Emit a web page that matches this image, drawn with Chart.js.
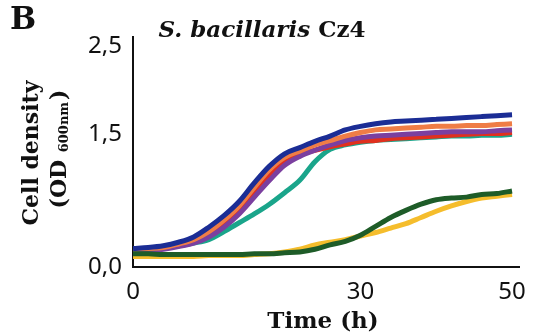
<!DOCTYPE html>
<html>
<head>
<meta charset="utf-8">
<script src="https://cdn.jsdelivr.net/npm/chart.js@4/dist/chart.umd.min.js"></script>
<style>
  html, body { margin: 0; padding: 0; background: #fff; }
  #wrap { width: 537px; height: 334px; position: relative; }
</style>
</head>
<body>
<div id="wrap"><canvas id="growth" width="537" height="334"></canvas></div>
<script>
// time (h), read every 2 h
var hours = [0, 2, 4, 6, 8, 10, 12, 14, 16, 18, 20, 22, 24, 26, 28, 30, 32, 34, 36, 38, 40, 42, 44, 46, 48, 50];

// OD600 per strain / condition
var blueOD   = [0.21, 0.22, 0.24, 0.28, 0.34, 0.45, 0.58, 0.74, 0.95, 1.14, 1.28, 1.35, 1.42, 1.48, 1.55, 1.59, 1.62, 1.64, 1.65, 1.66, 1.67, 1.68, 1.69, 1.70, 1.71, 1.72];
var orangeOD = [0.20, 0.21, 0.22, 0.26, 0.31, 0.40, 0.53, 0.69, 0.90, 1.10, 1.24, 1.31, 1.38, 1.43, 1.48, 1.52, 1.55, 1.56, 1.57, 1.58, 1.59, 1.59, 1.60, 1.60, 1.61, 1.62];
var purpleOD = [0.17, 0.18, 0.20, 0.23, 0.27, 0.34, 0.45, 0.60, 0.79, 0.98, 1.15, 1.25, 1.32, 1.38, 1.43, 1.46, 1.48, 1.49, 1.50, 1.51, 1.52, 1.53, 1.53, 1.53, 1.54, 1.55];
var redOD    = [0.18, 0.19, 0.21, 0.24, 0.29, 0.37, 0.49, 0.64, 0.84, 1.04, 1.19, 1.27, 1.32, 1.36, 1.39, 1.42, 1.43, 1.45, 1.46, 1.47, 1.48, 1.49, 1.50, 1.51, 1.51, 1.52];
var tealOD   = [0.21, 0.21, 0.22, 0.24, 0.27, 0.31, 0.40, 0.50, 0.60, 0.71, 0.84, 0.98, 1.19, 1.33, 1.38, 1.41, 1.43, 1.44, 1.45, 1.46, 1.47, 1.48, 1.48, 1.49, 1.49, 1.50];
var yellowOD = [0.12, 0.12, 0.12, 0.12, 0.12, 0.13, 0.13, 0.13, 0.14, 0.15, 0.17, 0.20, 0.25, 0.28, 0.31, 0.35, 0.39, 0.44, 0.49, 0.56, 0.63, 0.69, 0.74, 0.78, 0.80, 0.82];
var greenOD  = [0.15, 0.15, 0.14, 0.14, 0.14, 0.14, 0.14, 0.14, 0.15, 0.15, 0.16, 0.17, 0.20, 0.25, 0.29, 0.36, 0.46, 0.56, 0.64, 0.71, 0.76, 0.78, 0.79, 0.82, 0.83, 0.86];

var xTicks = [0, 30, 50];
var yTicks = [0, 1.5, 2.5];

function toPoints(vals) {
  return hours.map(function (h, i) { return {x: h, y: vals[i]}; });
}

function series(vals, color, order) {
  return {
    data: toPoints(vals),
    borderColor: color,
    backgroundColor: color,
    borderWidth: 5,
    pointRadius: 0,
    cubicInterpolationMode: 'monotone',
    order: order
  };
}

var serif = '"DejaVu Serif", "Liberation Serif", serif';

// extra labels: panel letter, title, axis titles
var labels = {
  id: 'labels',
  afterDraw: function (chart) {
    var ctx = chart.ctx;
    ctx.save();
    ctx.fillStyle = '#111';
    ctx.textBaseline = 'alphabetic';

    ctx.font = 'bold 31px ' + serif;
    ctx.textAlign = 'left';
    ctx.fillText('B', 10, 29);

    ctx.font = 'italic bold 23px ' + serif;
    var t1 = 'S. bacillaris ';
    var w1 = ctx.measureText(t1).width;
    ctx.font = 'bold 23px ' + serif;
    var w2 = ctx.measureText('Cz4').width;
    var x0 = 262 - (w1 + w2) / 2;
    ctx.font = 'italic bold 23px ' + serif;
    ctx.fillText(t1, x0, 37);
    ctx.font = 'bold 23px ' + serif;
    ctx.fillText('Cz4', x0 + w1, 37);

    ctx.font = 'bold 23px ' + serif;
    ctx.textAlign = 'center';
    ctx.fillText('Time (h)', 323, 328);

    // vertical y title
    ctx.save();
    ctx.translate(38, 153);
    ctx.rotate(-Math.PI / 2);
    ctx.font = 'bold 22px ' + serif;
    ctx.textAlign = 'center';
    ctx.fillText('Cell density', 0, 0);
    ctx.restore();

    ctx.save();
    ctx.translate(66, 150);
    ctx.rotate(-Math.PI / 2);
    ctx.font = 'bold 22px ' + serif;
    var a = '(OD ', b = '600nm', c = ')';
    var wa = ctx.measureText(a).width;
    var wc = ctx.measureText(c).width;
    ctx.font = 'bold 13px ' + serif;
    var wb = ctx.measureText(b).width;
    var start = -(wa + wb + wc) / 2;
    ctx.textAlign = 'left';
    ctx.font = 'bold 22px ' + serif;
    ctx.fillText(a, start, 0);
    ctx.font = 'bold 13px ' + serif;
    ctx.fillText(b, start + wa, 2);
    ctx.font = 'bold 22px ' + serif;
    ctx.fillText(c, start + wa + wb + 2, 0);
    ctx.restore();

    ctx.restore();
  }
};

new Chart(document.getElementById('growth'), {
  type: 'line',
  data: {
    datasets: [
      series(greenOD, '#1e5c28', 1),
      series(yellowOD, '#f5bd2c', 2),
      series(blueOD, '#1b2d95', 3),
      series(orangeOD, '#ef7d46', 4),
      series(purpleOD, '#7b3f9f', 5),
      series(redOD, '#e0301e', 6),
      series(tealOD, '#1aa58b', 7)
    ]
  },
  plugins: [labels],
  options: {
    responsive: false,
    animation: false,
    layout: {padding: {left: 0, right: 12, top: 37, bottom: 0}},
    plugins: {legend: {display: false}, tooltip: {enabled: false}},
    scales: {
      x: {
        type: 'linear',
        min: 0,
        max: 51,
        afterBuildTicks: function (s) { s.ticks = xTicks.map(function (v) { return {value: v}; }); },
        afterFit: function (s) { s.height = 67; },
        grid: {display: false, drawTicks: false},
        border: {color: '#111', width: 2},
        ticks: {
          color: '#111',
          padding: 11,
          font: {family: '"Noto Sans", "Open Sans", sans-serif', size: 24},
          maxRotation: 0
        }
      },
      y: {
        min: 0,
        max: 2.6,
        afterBuildTicks: function (s) { s.ticks = yTicks.map(function (v) { return {value: v}; }); },
        afterFit: function (s) { s.width = 133; },
        grid: {display: false, drawTicks: false},
        border: {color: '#111', width: 2},
        ticks: {
          color: '#111',
          padding: 11,
          font: {family: '"Noto Sans", "Open Sans", sans-serif', size: 24},
          callback: function (v) { return v.toFixed(1).replace('.', ','); }
        }
      }
    }
  }
});
</script>
</body>
</html>
